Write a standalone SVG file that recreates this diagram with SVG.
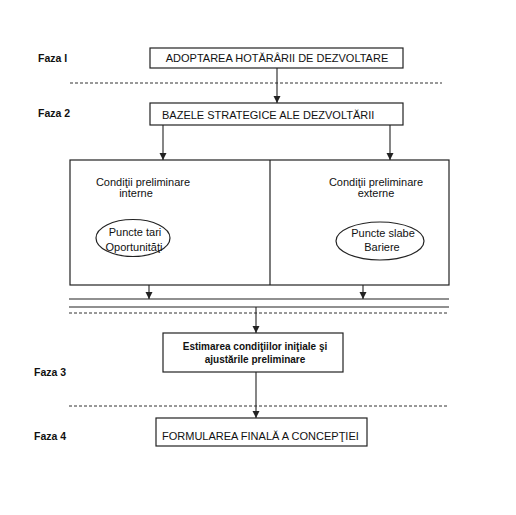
<svg xmlns="http://www.w3.org/2000/svg" width="516" height="515" viewBox="0 0 516 515">
<defs>
<marker id="ah" markerWidth="8" markerHeight="8" refX="7" refY="4" orient="auto" markerUnits="userSpaceOnUse">
<path d="M0,0.5 L7,4 L0,7.5 Z" fill="#222"/>
</marker>
<style>
.box{fill:#fff;stroke:#222;stroke-width:1.2}
.ln{stroke:#222;stroke-width:1.2;fill:none}
.dash{stroke:#333;stroke-width:1;stroke-dasharray:3,2;fill:none}
.arr{stroke:#222;stroke-width:1.1;fill:none;marker-end:url(#ah)}
.t{font-family:"Liberation Sans",Arial,sans-serif;font-size:11px;fill:#111}
.f{font-family:"Liberation Sans",Arial,sans-serif;font-size:10.5px;font-weight:bold;fill:#111}
.b{font-family:"Liberation Sans",Arial,sans-serif;font-size:10px;font-weight:bold;fill:#111}
.e{font-family:"Liberation Sans",Arial,sans-serif;font-size:11px;fill:#111}
</style>
</defs>
<rect width="516" height="515" fill="#fff"/>
<g id="phases">
<text class="f" x="38" y="62">Faza I</text>
<text class="f" x="38" y="117">Faza 2</text>
<text class="f" x="34" y="376">Faza 3</text>
<text class="f" x="34" y="440">Faza 4</text>
</g>
<g id="separators">
<line class="dash" x1="70" y1="83" x2="442" y2="83"/>
<line class="ln" x1="69" y1="299" x2="449" y2="299"/>
<line class="ln" x1="69" y1="307" x2="449" y2="307"/>
<line class="dash" x1="69" y1="313" x2="449" y2="313"/>
<line class="dash" x1="69" y1="406" x2="449" y2="406"/>
</g>
<g id="connectors">
<line class="arr" x1="277" y1="68" x2="277" y2="103"/>
<line class="arr" x1="163" y1="125" x2="163" y2="160"/>
<line class="arr" x1="390" y1="125" x2="390" y2="160"/>
<line class="arr" x1="149" y1="285" x2="149" y2="299"/>
<line class="arr" x1="363" y1="285" x2="363" y2="299"/>
<line class="arr" x1="256" y1="307" x2="256" y2="333"/>
<line class="arr" x1="256" y1="372" x2="256" y2="418"/>
</g>
<g id="n1">
<rect class="box" x="150" y="48" width="253" height="20"/>
<text class="t" x="277" y="62" text-anchor="middle">ADOPTAREA HOTĂRÂRII DE DEZVOLTARE</text>
</g>
<g id="n2">
<rect class="box" x="150" y="103" width="253" height="22"/>
<text class="t" x="162" y="119">BAZELE STRATEGICE ALE DEZVOLTĂRII</text>
</g>
<g id="n3">
<rect class="box" x="70" y="160" width="379" height="125"/>
<line class="ln" x1="270" y1="160" x2="270" y2="285"/>
<text class="t" x="143" y="186" text-anchor="middle">Condiţii preliminare</text>
<text class="t" x="136" y="197" text-anchor="middle">interne</text>
<text class="t" x="376" y="186" text-anchor="middle">Condiţii preliminare</text>
<text class="t" x="376" y="197" text-anchor="middle">externe</text>
</g>
<g id="n4">
<ellipse class="box" cx="133" cy="238" rx="37" ry="18.5"/>
<text class="e" x="135" y="236" text-anchor="middle">Puncte tari</text>
<text class="e" x="134" y="251" text-anchor="middle">Oportunităţi</text>
</g>
<g id="n5">
<ellipse class="box" cx="380" cy="241" rx="44" ry="19"/>
<text class="e" x="383" y="237" text-anchor="middle">Puncte slabe</text>
<text class="e" x="382" y="251" text-anchor="middle">Bariere</text>
</g>
<g id="n6">
<rect class="box" x="163" y="333" width="180" height="39"/>
<text class="b" x="255" y="350" text-anchor="middle">Estimarea condiţiilor iniţiale şi</text>
<text class="b" x="255" y="363" text-anchor="middle">ajustările preliminare</text>
</g>
<g id="n7">
<rect class="box" x="156" y="418" width="211" height="28"/>
<text class="t" x="162" y="440">FORMULAREA FINALĂ A CONCEPŢIEI</text>
</g>
</svg>
